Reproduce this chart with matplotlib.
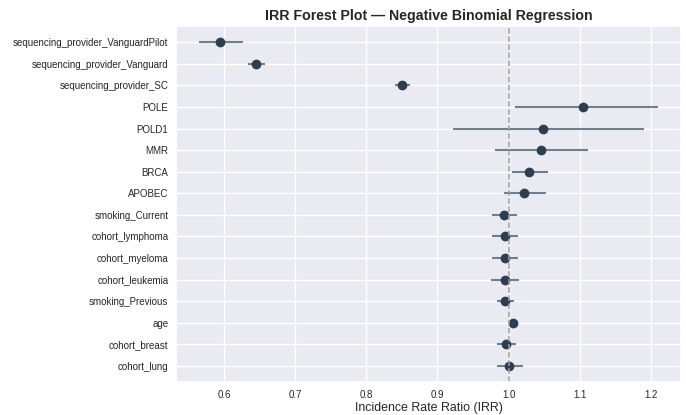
import numpy as np
import matplotlib.pyplot as plt
import seaborn as sns

# IRR estimates with 95% CI, listed top to bottom
terms = ['sequencing_provider_VanguardPilot', 'sequencing_provider_Vanguard',
         'sequencing_provider_SC', 'POLE', 'POLD1', 'MMR', 'BRCA', 'APOBEC',
         'smoking_Current', 'cohort_lymphoma', 'cohort_myeloma', 'cohort_leukemia',
         'smoking_Previous', 'age', 'cohort_breast', 'cohort_lung']
irr = [0.595, 0.645, 0.850, 1.105, 1.048, 1.045, 1.029, 1.022,
       0.994, 0.995, 0.995, 0.995, 0.995, 1.006, 0.997, 1.001]
ci_low = [0.565, 0.634, 0.841, 1.009, 0.922, 0.981, 1.005, 0.994,
          0.977, 0.977, 0.977, 0.975, 0.984, 1.004, 0.984, 0.984]
ci_high = [0.627, 0.658, 0.861, 1.210, 1.190, 1.112, 1.055, 1.053,
           1.012, 1.013, 1.013, 1.015, 1.007, 1.008, 1.010, 1.020]

sns.set_theme(style='darkgrid')
plt.rcParams['font.family'] = ['Liberation Sans', 'DejaVu Sans']

fig, ax = plt.subplots(figsize=(6.86, 4.15), dpi=100)
fig.subplots_adjust(left=0.2566, right=0.9927, top=0.9373, bottom=0.0795)

y = np.arange(len(terms))[::-1]
irr = np.array(irr)
err = [irr - np.array(ci_low), np.array(ci_high) - irr]
ax.errorbar(irr, y, xerr=err, fmt='none', ecolor='#6f7f90', elinewidth=1.5, capsize=0)
ax.plot(irr, y, 'o', color='#2c3e50', markersize=6)
ax.axvline(1.0, color='#a0a0a0', linestyle='--', linewidth=1.1)

ax.set_yticks(y)
ax.set_yticklabels(terms)
ax.tick_params(axis='both', labelsize=7, length=0, pad=5.5)
ax.set_xlabel('Incidence Rate Ratio (IRR)', fontsize=8.9, labelpad=1.5)
ax.set_title('IRR Forest Plot \u2014 Negative Binomial Regression', fontsize=10.2, fontweight='bold', pad=4)

fig.savefig('out.png', dpi=100)
